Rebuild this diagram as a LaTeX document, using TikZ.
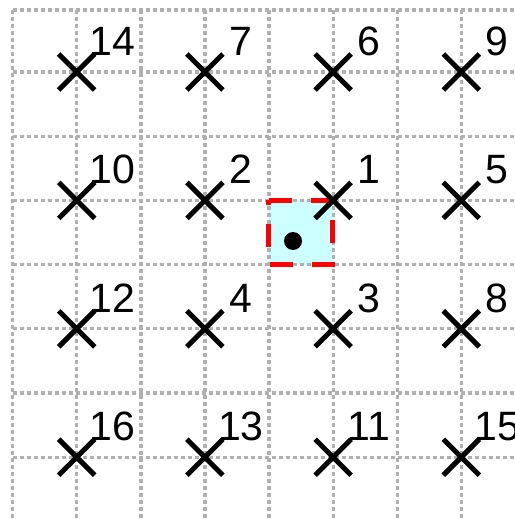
\documentclass[tikz,border=0pt]{standalone}
\usepackage{fontspec}
\setmainfont{Liberation Sans}
\usetikzlibrary{shapes.misc}
\definecolor{gridgray}{RGB}{176,176,176}
\definecolor{cellcyan}{RGB}{204,255,255}
\definecolor{cellred}{RGB}{255,0,0}
\tikzset{
  gridline/.style={draw=gridgray, line width=3.3pt, dash pattern=on 4pt off 3pt},
  xmark/.style={cross out, draw=black, line width=5pt, minimum size=31pt, inner sep=0pt},
  lbl/.style={anchor=base, inner sep=0pt, font=\fontsize{41}{44}\selectfont},
  cellbox/.style={fill=cellcyan},
  cellborder/.style={draw=cellred, line width=5pt, dash pattern=on 23pt off 19pt},
}
\begin{document}
\begin{tikzpicture}[x=1pt,y=-1pt]
\useasboundingbox (0,0) rectangle (514,519);
\clip (0,0) rectangle (514,519);
% highlighted cell
\fill[cellbox] (268.5,200.4) rectangle (332.8,264.6);
% grid
\foreach \k in {0,...,7} {
  \draw[gridline] ({12.7+64.1*\k},10) -- ({12.7+64.1*\k},525);
}
\draw[gridline] (12.7,10) -- (520,10);
\foreach \k in {0,...,6} {
  \draw[gridline] (12.7,{72+64.2*\k}) -- (520,{72+64.2*\k});
}
% red dashed border
\draw[cellborder] (268.5,200.4) -- (332.8,200.4) -- (332.8,264.6) -- (268.5,264.6) -- cycle;
% dot
\node[circle, fill=black, inner sep=0pt, minimum size=18pt] (dot) at (293,241) {};
% crosses and labels
\foreach \lab/\i/\j in {14/0/0, 7/1/0, 6/2/0, 9/3/0, 10/0/1, 2/1/1, 1/2/1, 5/3/1, 12/0/2, 4/1/2, 3/2/2, 8/3/2, 16/0/3, 13/1/3, 11/2/3, 15/3/3} {
  \node[xmark] (p\lab) at ({76.7+128.2*\i},{72+128.4*\j}) {};
  \node[lbl] (t\lab) at ([shift={(36,-16.7)}]p\lab.center) {\lab};
}
\end{tikzpicture}
\end{document}
